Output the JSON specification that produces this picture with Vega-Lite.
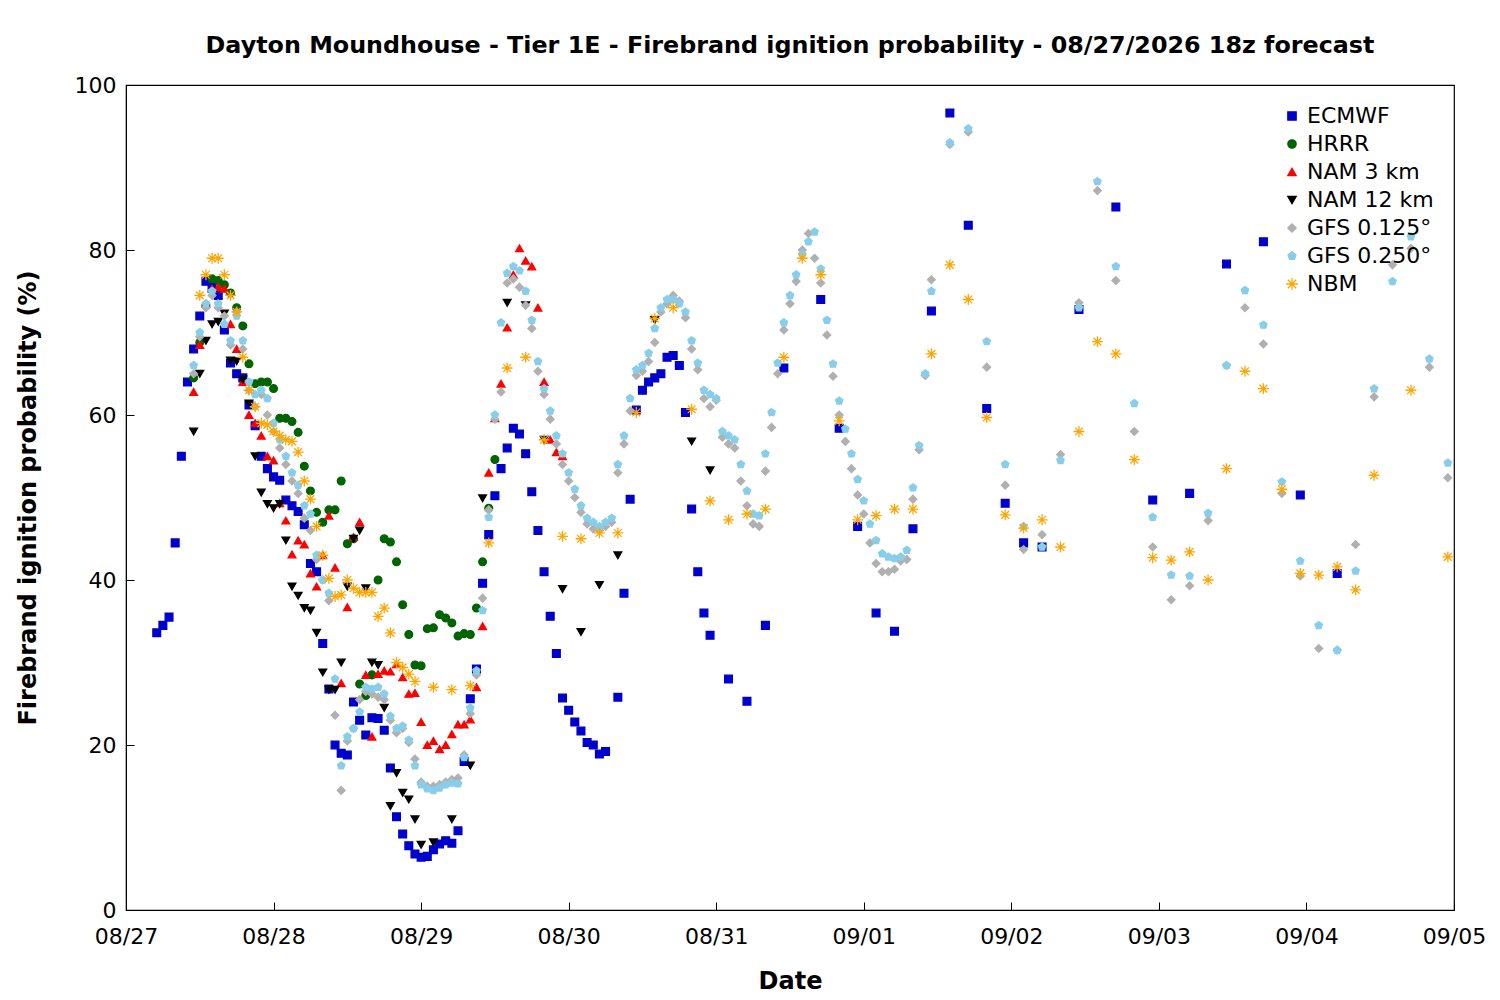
{
  "$schema": "https://vega.github.io/schema/vega-lite/v6.json",
  "width": 1328,
  "height": 825,
  "autosize": "none",
  "padding": {"left": 126, "top": 85, "right": 46, "bottom": 90},
  "background": "white",
  "title": {"text": "Dayton Moundhouse - Tier 1E - Firebrand ignition probability - 08/27/2026 18z forecast", "font": "DejaVu Sans", "fontSize": 23.8, "fontWeight": "bold", "offset": 16},
  "data": {"values": [
    {"m":"ECMWF","h":5,"v":33.6},{"m":"ECMWF","h":6,"v":34.5},{"m":"ECMWF","h":7,"v":35.5},{"m":"ECMWF","h":8,"v":44.5},{"m":"ECMWF","h":9,"v":55},{"m":"ECMWF","h":10,"v":64},{"m":"ECMWF","h":11,"v":68},{"m":"ECMWF","h":12,"v":72},{"m":"ECMWF","h":13,"v":76.2},{"m":"ECMWF","h":14,"v":75.5},{"m":"ECMWF","h":15,"v":74.5},{"m":"ECMWF","h":16,"v":70.3},{"m":"ECMWF","h":17,"v":66.3},{"m":"ECMWF","h":18,"v":65},{"m":"ECMWF","h":19,"v":64.5},{"m":"ECMWF","h":20,"v":61.2},{"m":"ECMWF","h":21,"v":58.7},{"m":"ECMWF","h":22,"v":55},{"m":"ECMWF","h":23,"v":53.5},{"m":"ECMWF","h":24,"v":52.5},{"m":"ECMWF","h":25,"v":52.1},{"m":"ECMWF","h":26,"v":49.7},{"m":"ECMWF","h":27,"v":49},{"m":"ECMWF","h":28,"v":48.3},{"m":"ECMWF","h":29,"v":46.7},{"m":"ECMWF","h":30,"v":42},{"m":"ECMWF","h":31,"v":41},{"m":"ECMWF","h":32,"v":32.3},{"m":"ECMWF","h":33,"v":26.8},{"m":"ECMWF","h":34,"v":20},{"m":"ECMWF","h":35,"v":19},{"m":"ECMWF","h":36,"v":18.8},{"m":"ECMWF","h":37,"v":25.2},{"m":"ECMWF","h":38,"v":23},{"m":"ECMWF","h":39,"v":21.2},{"m":"ECMWF","h":40,"v":23.3},{"m":"ECMWF","h":41,"v":23.2},{"m":"ECMWF","h":42,"v":21.8},{"m":"ECMWF","h":43,"v":17.2},{"m":"ECMWF","h":44,"v":11.3},{"m":"ECMWF","h":45,"v":9.2},{"m":"ECMWF","h":46,"v":7.8},{"m":"ECMWF","h":47,"v":6.8},{"m":"ECMWF","h":48,"v":6.4},{"m":"ECMWF","h":49,"v":6.5},{"m":"ECMWF","h":50,"v":7.3},{"m":"ECMWF","h":51,"v":8},{"m":"ECMWF","h":52,"v":8.4},{"m":"ECMWF","h":53,"v":8.1},{"m":"ECMWF","h":54,"v":9.6},{"m":"ECMWF","h":55,"v":18},{"m":"ECMWF","h":56,"v":25.6},{"m":"ECMWF","h":57,"v":29.2},{"m":"ECMWF","h":58,"v":39.6},{"m":"ECMWF","h":59,"v":45.5},{"m":"ECMWF","h":60,"v":50.2},{"m":"ECMWF","h":61,"v":53.5},{"m":"ECMWF","h":62,"v":56},{"m":"ECMWF","h":63,"v":58.4},{"m":"ECMWF","h":64,"v":57.7},{"m":"ECMWF","h":65,"v":55.3},{"m":"ECMWF","h":66,"v":50.7},{"m":"ECMWF","h":67,"v":46},{"m":"ECMWF","h":68,"v":41},{"m":"ECMWF","h":69,"v":35.6},{"m":"ECMWF","h":70,"v":31.1},{"m":"ECMWF","h":71,"v":25.7},{"m":"ECMWF","h":72,"v":24.2},{"m":"ECMWF","h":73,"v":22.8},{"m":"ECMWF","h":74,"v":21.7},{"m":"ECMWF","h":75,"v":20.3},{"m":"ECMWF","h":76,"v":20},{"m":"ECMWF","h":77,"v":18.9},{"m":"ECMWF","h":78,"v":19.2},{"m":"ECMWF","h":80,"v":25.8},{"m":"ECMWF","h":81,"v":38.4},{"m":"ECMWF","h":82,"v":49.8},{"m":"ECMWF","h":83,"v":60.6},{"m":"ECMWF","h":84,"v":63},{"m":"ECMWF","h":85,"v":64},{"m":"ECMWF","h":86,"v":64.5},{"m":"ECMWF","h":87,"v":65},{"m":"ECMWF","h":88,"v":67},{"m":"ECMWF","h":89,"v":67.2},{"m":"ECMWF","h":90,"v":66},{"m":"ECMWF","h":91,"v":60.3},{"m":"ECMWF","h":92,"v":48.6},{"m":"ECMWF","h":93,"v":41},{"m":"ECMWF","h":94,"v":36},{"m":"ECMWF","h":95,"v":33.3},{"m":"ECMWF","h":98,"v":28},{"m":"ECMWF","h":101,"v":25.3},{"m":"ECMWF","h":104,"v":34.5},{"m":"ECMWF","h":107,"v":65.7},{"m":"ECMWF","h":113,"v":74},{"m":"ECMWF","h":116,"v":58.4},{"m":"ECMWF","h":119,"v":46.5},{"m":"ECMWF","h":122,"v":36},{"m":"ECMWF","h":125,"v":33.8},{"m":"ECMWF","h":128,"v":46.2},{"m":"ECMWF","h":131,"v":72.6},{"m":"ECMWF","h":134,"v":96.6},{"m":"ECMWF","h":137,"v":83},{"m":"ECMWF","h":140,"v":60.8},{"m":"ECMWF","h":143,"v":49.3},{"m":"ECMWF","h":146,"v":44.5},{"m":"ECMWF","h":149,"v":44},{"m":"ECMWF","h":155,"v":72.8},{"m":"ECMWF","h":161,"v":85.2},{"m":"ECMWF","h":167,"v":49.7},{"m":"ECMWF","h":173,"v":50.5},{"m":"ECMWF","h":179,"v":78.3},{"m":"ECMWF","h":185,"v":81},{"m":"ECMWF","h":191,"v":50.3},{"m":"ECMWF","h":197,"v":40.8},

    {"m":"HRRR","h":11,"v":64.5},{"m":"HRRR","h":12,"v":68.8},{"m":"HRRR","h":13,"v":73.3},{"m":"HRRR","h":14,"v":76.5},{"m":"HRRR","h":15,"v":76.3},{"m":"HRRR","h":16,"v":75.8},{"m":"HRRR","h":17,"v":74.8},{"m":"HRRR","h":18,"v":73},{"m":"HRRR","h":19,"v":70.8},{"m":"HRRR","h":20,"v":66.2},{"m":"HRRR","h":21,"v":63.8},{"m":"HRRR","h":22,"v":64},{"m":"HRRR","h":23,"v":64},{"m":"HRRR","h":24,"v":63.2},{"m":"HRRR","h":25,"v":59.6},{"m":"HRRR","h":26,"v":59.6},{"m":"HRRR","h":27,"v":59.2},{"m":"HRRR","h":28,"v":57.9},{"m":"HRRR","h":29,"v":53.8},{"m":"HRRR","h":30,"v":50.8},{"m":"HRRR","h":31,"v":48.2},{"m":"HRRR","h":32,"v":47},{"m":"HRRR","h":33,"v":48.5},{"m":"HRRR","h":34,"v":48.5},{"m":"HRRR","h":35,"v":52},{"m":"HRRR","h":36,"v":44.4},{"m":"HRRR","h":37,"v":45},{"m":"HRRR","h":38,"v":27.4},{"m":"HRRR","h":39,"v":26},{"m":"HRRR","h":40,"v":28.5},{"m":"HRRR","h":41,"v":40},{"m":"HRRR","h":42,"v":45},{"m":"HRRR","h":43,"v":44.6},{"m":"HRRR","h":44,"v":42.2},{"m":"HRRR","h":45,"v":37},{"m":"HRRR","h":46,"v":33.4},{"m":"HRRR","h":47,"v":29.7},{"m":"HRRR","h":48,"v":29.6},{"m":"HRRR","h":49,"v":34.1},{"m":"HRRR","h":50,"v":34.2},{"m":"HRRR","h":51,"v":35.8},{"m":"HRRR","h":52,"v":35.4},{"m":"HRRR","h":53,"v":34.8},{"m":"HRRR","h":54,"v":33.2},{"m":"HRRR","h":55,"v":33.5},{"m":"HRRR","h":56,"v":33.4},{"m":"HRRR","h":57,"v":36.6},{"m":"HRRR","h":58,"v":42.2},{"m":"HRRR","h":59,"v":48.7},{"m":"HRRR","h":60,"v":54.6},

    {"m":"NAM 3 km","h":11,"v":62.8},{"m":"NAM 3 km","h":12,"v":68.5},{"m":"NAM 3 km","h":13,"v":73.5},{"m":"NAM 3 km","h":14,"v":75.3},{"m":"NAM 3 km","h":15,"v":75.5},{"m":"NAM 3 km","h":16,"v":75.3},{"m":"NAM 3 km","h":17,"v":71},{"m":"NAM 3 km","h":18,"v":68},{"m":"NAM 3 km","h":19,"v":64},{"m":"NAM 3 km","h":20,"v":60},{"m":"NAM 3 km","h":21,"v":59},{"m":"NAM 3 km","h":22,"v":57.5},{"m":"NAM 3 km","h":23,"v":55},{"m":"NAM 3 km","h":24,"v":54.5},{"m":"NAM 3 km","h":25,"v":49.3},{"m":"NAM 3 km","h":26,"v":47.2},{"m":"NAM 3 km","h":27,"v":43.1},{"m":"NAM 3 km","h":28,"v":44.8},{"m":"NAM 3 km","h":29,"v":44.3},{"m":"NAM 3 km","h":30,"v":40.8},{"m":"NAM 3 km","h":31,"v":39.2},{"m":"NAM 3 km","h":32,"v":43},{"m":"NAM 3 km","h":33,"v":47.8},{"m":"NAM 3 km","h":34,"v":41.5},{"m":"NAM 3 km","h":35,"v":27.5},{"m":"NAM 3 km","h":36,"v":36.7},{"m":"NAM 3 km","h":37,"v":45.2},{"m":"NAM 3 km","h":38,"v":47},{"m":"NAM 3 km","h":39,"v":28.5},{"m":"NAM 3 km","h":40,"v":21},{"m":"NAM 3 km","h":41,"v":28.6},{"m":"NAM 3 km","h":42,"v":29},{"m":"NAM 3 km","h":43,"v":28.9},{"m":"NAM 3 km","h":44,"v":29.8},{"m":"NAM 3 km","h":45,"v":28.2},{"m":"NAM 3 km","h":46,"v":26.2},{"m":"NAM 3 km","h":47,"v":26.3},{"m":"NAM 3 km","h":48,"v":22.8},{"m":"NAM 3 km","h":49,"v":20},{"m":"NAM 3 km","h":50,"v":20.5},{"m":"NAM 3 km","h":51,"v":19.5},{"m":"NAM 3 km","h":52,"v":20},{"m":"NAM 3 km","h":53,"v":21.3},{"m":"NAM 3 km","h":54,"v":22.5},{"m":"NAM 3 km","h":55,"v":22.5},{"m":"NAM 3 km","h":56,"v":23.1},{"m":"NAM 3 km","h":57,"v":27},{"m":"NAM 3 km","h":58,"v":34.4},{"m":"NAM 3 km","h":59,"v":53},{"m":"NAM 3 km","h":60,"v":59.6},{"m":"NAM 3 km","h":61,"v":63.8},{"m":"NAM 3 km","h":62,"v":70.6},{"m":"NAM 3 km","h":63,"v":77},{"m":"NAM 3 km","h":64,"v":80.2},{"m":"NAM 3 km","h":65,"v":78.7},{"m":"NAM 3 km","h":66,"v":78},{"m":"NAM 3 km","h":67,"v":73},{"m":"NAM 3 km","h":68,"v":64},{"m":"NAM 3 km","h":69,"v":57},{"m":"NAM 3 km","h":70,"v":55.5},{"m":"NAM 3 km","h":71,"v":55},

    {"m":"NAM 12 km","h":11,"v":58},{"m":"NAM 12 km","h":12,"v":65},{"m":"NAM 12 km","h":13,"v":69},{"m":"NAM 12 km","h":14,"v":71},{"m":"NAM 12 km","h":15,"v":71.3},{"m":"NAM 12 km","h":16,"v":72.3},{"m":"NAM 12 km","h":17,"v":66.6},{"m":"NAM 12 km","h":18,"v":66.5},{"m":"NAM 12 km","h":19,"v":64.3},{"m":"NAM 12 km","h":20,"v":61.4},{"m":"NAM 12 km","h":21,"v":55},{"m":"NAM 12 km","h":22,"v":50.6},{"m":"NAM 12 km","h":23,"v":49.2},{"m":"NAM 12 km","h":24,"v":48.7},{"m":"NAM 12 km","h":25,"v":49.2},{"m":"NAM 12 km","h":26,"v":44.8},{"m":"NAM 12 km","h":27,"v":39.2},{"m":"NAM 12 km","h":28,"v":38.1},{"m":"NAM 12 km","h":29,"v":36.6},{"m":"NAM 12 km","h":30,"v":36.3},{"m":"NAM 12 km","h":31,"v":33.6},{"m":"NAM 12 km","h":32,"v":28.8},{"m":"NAM 12 km","h":33,"v":26.7},{"m":"NAM 12 km","h":34,"v":26.7},{"m":"NAM 12 km","h":35,"v":30},{"m":"NAM 12 km","h":36,"v":39.2},{"m":"NAM 12 km","h":37,"v":45},{"m":"NAM 12 km","h":38,"v":46},{"m":"NAM 12 km","h":39,"v":39},{"m":"NAM 12 km","h":40,"v":30},{"m":"NAM 12 km","h":41,"v":29.7},{"m":"NAM 12 km","h":42,"v":24.5},{"m":"NAM 12 km","h":43,"v":12.6},{"m":"NAM 12 km","h":44,"v":16.6},{"m":"NAM 12 km","h":45,"v":14.2},{"m":"NAM 12 km","h":46,"v":13.4},{"m":"NAM 12 km","h":47,"v":11},{"m":"NAM 12 km","h":48,"v":7.9},{"m":"NAM 12 km","h":50,"v":8.2},{"m":"NAM 12 km","h":53,"v":11},{"m":"NAM 12 km","h":56,"v":17.5},{"m":"NAM 12 km","h":58,"v":49.9},{"m":"NAM 12 km","h":62,"v":73.6},{"m":"NAM 12 km","h":65,"v":73.3},{"m":"NAM 12 km","h":68,"v":57},{"m":"NAM 12 km","h":71,"v":38.9},{"m":"NAM 12 km","h":74,"v":33.7},{"m":"NAM 12 km","h":77,"v":39.4},{"m":"NAM 12 km","h":80,"v":43},{"m":"NAM 12 km","h":86,"v":71.5},{"m":"NAM 12 km","h":92,"v":56.8},{"m":"NAM 12 km","h":95,"v":53.3},

    {"m":"GFS 0.125°","h":11,"v":65},{"m":"GFS 0.125°","h":12,"v":69.5},{"m":"GFS 0.125°","h":13,"v":73},{"m":"GFS 0.125°","h":14,"v":74.5},{"m":"GFS 0.125°","h":15,"v":73},{"m":"GFS 0.125°","h":16,"v":72},{"m":"GFS 0.125°","h":17,"v":68.5},{"m":"GFS 0.125°","h":18,"v":72.5},{"m":"GFS 0.125°","h":19,"v":68},{"m":"GFS 0.125°","h":20,"v":63},{"m":"GFS 0.125°","h":21,"v":61},{"m":"GFS 0.125°","h":22,"v":62.5},{"m":"GFS 0.125°","h":23,"v":60},{"m":"GFS 0.125°","h":24,"v":58},{"m":"GFS 0.125°","h":25,"v":56},{"m":"GFS 0.125°","h":26,"v":54},{"m":"GFS 0.125°","h":27,"v":52},{"m":"GFS 0.125°","h":28,"v":50.5},{"m":"GFS 0.125°","h":29,"v":47.5},{"m":"GFS 0.125°","h":30,"v":46},{"m":"GFS 0.125°","h":31,"v":42.5},{"m":"GFS 0.125°","h":32,"v":40},{"m":"GFS 0.125°","h":33,"v":37.5},{"m":"GFS 0.125°","h":34,"v":23.6},{"m":"GFS 0.125°","h":35,"v":14.5},{"m":"GFS 0.125°","h":36,"v":20.5},{"m":"GFS 0.125°","h":37,"v":22},{"m":"GFS 0.125°","h":38,"v":25.5},{"m":"GFS 0.125°","h":39,"v":26.5},{"m":"GFS 0.125°","h":40,"v":26.2},{"m":"GFS 0.125°","h":41,"v":25.8},{"m":"GFS 0.125°","h":42,"v":25.5},{"m":"GFS 0.125°","h":43,"v":23},{"m":"GFS 0.125°","h":44,"v":21.5},{"m":"GFS 0.125°","h":45,"v":22},{"m":"GFS 0.125°","h":46,"v":20.3},{"m":"GFS 0.125°","h":47,"v":18.3},{"m":"GFS 0.125°","h":48,"v":15.5},{"m":"GFS 0.125°","h":49,"v":15},{"m":"GFS 0.125°","h":50,"v":15},{"m":"GFS 0.125°","h":51,"v":15.2},{"m":"GFS 0.125°","h":52,"v":15.5},{"m":"GFS 0.125°","h":53,"v":15.8},{"m":"GFS 0.125°","h":54,"v":16},{"m":"GFS 0.125°","h":55,"v":18.8},{"m":"GFS 0.125°","h":56,"v":23.8},{"m":"GFS 0.125°","h":57,"v":28.5},{"m":"GFS 0.125°","h":58,"v":37.8},{"m":"GFS 0.125°","h":59,"v":48.5},{"m":"GFS 0.125°","h":60,"v":59.5},{"m":"GFS 0.125°","h":61,"v":62.8},{"m":"GFS 0.125°","h":62,"v":76},{"m":"GFS 0.125°","h":63,"v":76.5},{"m":"GFS 0.125°","h":64,"v":75.5},{"m":"GFS 0.125°","h":65,"v":73.3},{"m":"GFS 0.125°","h":66,"v":70.5},{"m":"GFS 0.125°","h":67,"v":65.3},{"m":"GFS 0.125°","h":68,"v":62.5},{"m":"GFS 0.125°","h":69,"v":59.5},{"m":"GFS 0.125°","h":70,"v":56.5},{"m":"GFS 0.125°","h":71,"v":54},{"m":"GFS 0.125°","h":72,"v":52},{"m":"GFS 0.125°","h":73,"v":50},{"m":"GFS 0.125°","h":74,"v":48.2},{"m":"GFS 0.125°","h":75,"v":46.8},{"m":"GFS 0.125°","h":76,"v":46.2},{"m":"GFS 0.125°","h":77,"v":46},{"m":"GFS 0.125°","h":78,"v":46.5},{"m":"GFS 0.125°","h":79,"v":47},{"m":"GFS 0.125°","h":80,"v":53},{"m":"GFS 0.125°","h":81,"v":56.5},{"m":"GFS 0.125°","h":82,"v":60.5},{"m":"GFS 0.125°","h":83,"v":64.8},{"m":"GFS 0.125°","h":84,"v":65.3},{"m":"GFS 0.125°","h":85,"v":66.5},{"m":"GFS 0.125°","h":86,"v":68.8},{"m":"GFS 0.125°","h":87,"v":72.5},{"m":"GFS 0.125°","h":88,"v":73.5},{"m":"GFS 0.125°","h":89,"v":74.5},{"m":"GFS 0.125°","h":90,"v":73.8},{"m":"GFS 0.125°","h":91,"v":71.8},{"m":"GFS 0.125°","h":92,"v":68},{"m":"GFS 0.125°","h":93,"v":65.5},{"m":"GFS 0.125°","h":94,"v":62},{"m":"GFS 0.125°","h":95,"v":61},{"m":"GFS 0.125°","h":96,"v":61.8},{"m":"GFS 0.125°","h":97,"v":57.3},{"m":"GFS 0.125°","h":98,"v":56.5},{"m":"GFS 0.125°","h":99,"v":56},{"m":"GFS 0.125°","h":100,"v":52},{"m":"GFS 0.125°","h":101,"v":49},{"m":"GFS 0.125°","h":102,"v":46.8},{"m":"GFS 0.125°","h":103,"v":46.5},{"m":"GFS 0.125°","h":104,"v":53.2},{"m":"GFS 0.125°","h":105,"v":58.5},{"m":"GFS 0.125°","h":106,"v":65},{"m":"GFS 0.125°","h":107,"v":70.3},{"m":"GFS 0.125°","h":108,"v":73.5},{"m":"GFS 0.125°","h":109,"v":76.2},{"m":"GFS 0.125°","h":110,"v":80},{"m":"GFS 0.125°","h":111,"v":82},{"m":"GFS 0.125°","h":112,"v":79},{"m":"GFS 0.125°","h":113,"v":76},{"m":"GFS 0.125°","h":114,"v":69.7},{"m":"GFS 0.125°","h":115,"v":64.7},{"m":"GFS 0.125°","h":116,"v":60},{"m":"GFS 0.125°","h":117,"v":56.8},{"m":"GFS 0.125°","h":118,"v":53.5},{"m":"GFS 0.125°","h":119,"v":50.3},{"m":"GFS 0.125°","h":120,"v":48},{"m":"GFS 0.125°","h":121,"v":44.5},{"m":"GFS 0.125°","h":122,"v":42},{"m":"GFS 0.125°","h":123,"v":41},{"m":"GFS 0.125°","h":124,"v":41},{"m":"GFS 0.125°","h":125,"v":41.3},{"m":"GFS 0.125°","h":126,"v":42.3},{"m":"GFS 0.125°","h":127,"v":42.5},{"m":"GFS 0.125°","h":128,"v":49.8},{"m":"GFS 0.125°","h":129,"v":55.8},{"m":"GFS 0.125°","h":130,"v":64.8},{"m":"GFS 0.125°","h":131,"v":76.4},{"m":"GFS 0.125°","h":134,"v":92.8},{"m":"GFS 0.125°","h":137,"v":94.3},{"m":"GFS 0.125°","h":140,"v":65.8},{"m":"GFS 0.125°","h":143,"v":51.5},{"m":"GFS 0.125°","h":146,"v":43.7},{"m":"GFS 0.125°","h":149,"v":45.5},{"m":"GFS 0.125°","h":152,"v":55.2},{"m":"GFS 0.125°","h":155,"v":73.6},{"m":"GFS 0.125°","h":158,"v":87.2},{"m":"GFS 0.125°","h":161,"v":76.3},{"m":"GFS 0.125°","h":164,"v":58},{"m":"GFS 0.125°","h":167,"v":44},{"m":"GFS 0.125°","h":170,"v":37.6},{"m":"GFS 0.125°","h":173,"v":39.3},{"m":"GFS 0.125°","h":176,"v":47.2},{"m":"GFS 0.125°","h":179,"v":66},{"m":"GFS 0.125°","h":182,"v":73},{"m":"GFS 0.125°","h":185,"v":68.6},{"m":"GFS 0.125°","h":188,"v":50.5},{"m":"GFS 0.125°","h":191,"v":40.5},{"m":"GFS 0.125°","h":194,"v":31.7},{"m":"GFS 0.125°","h":197,"v":31.5},{"m":"GFS 0.125°","h":200,"v":44.3},{"m":"GFS 0.125°","h":203,"v":62.2},{"m":"GFS 0.125°","h":206,"v":78.2},{"m":"GFS 0.125°","h":209,"v":80.2},{"m":"GFS 0.125°","h":212,"v":65.8},{"m":"GFS 0.125°","h":215,"v":52.4},

    {"m":"GFS 0.250°","h":11,"v":66},{"m":"GFS 0.250°","h":12,"v":70},{"m":"GFS 0.250°","h":13,"v":73.5},{"m":"GFS 0.250°","h":14,"v":75},{"m":"GFS 0.250°","h":15,"v":73.5},{"m":"GFS 0.250°","h":16,"v":71},{"m":"GFS 0.250°","h":17,"v":69},{"m":"GFS 0.250°","h":18,"v":72},{"m":"GFS 0.250°","h":19,"v":69},{"m":"GFS 0.250°","h":20,"v":64},{"m":"GFS 0.250°","h":21,"v":62.5},{"m":"GFS 0.250°","h":22,"v":63},{"m":"GFS 0.250°","h":23,"v":62},{"m":"GFS 0.250°","h":24,"v":59},{"m":"GFS 0.250°","h":25,"v":57},{"m":"GFS 0.250°","h":26,"v":55},{"m":"GFS 0.250°","h":27,"v":53},{"m":"GFS 0.250°","h":28,"v":51.5},{"m":"GFS 0.250°","h":29,"v":49},{"m":"GFS 0.250°","h":30,"v":48},{"m":"GFS 0.250°","h":31,"v":43},{"m":"GFS 0.250°","h":32,"v":40},{"m":"GFS 0.250°","h":33,"v":38.4},{"m":"GFS 0.250°","h":34,"v":28},{"m":"GFS 0.250°","h":35,"v":17.5},{"m":"GFS 0.250°","h":36,"v":21},{"m":"GFS 0.250°","h":37,"v":22},{"m":"GFS 0.250°","h":38,"v":24},{"m":"GFS 0.250°","h":39,"v":27},{"m":"GFS 0.250°","h":40,"v":26.8},{"m":"GFS 0.250°","h":41,"v":27},{"m":"GFS 0.250°","h":42,"v":26.2},{"m":"GFS 0.250°","h":43,"v":23.5},{"m":"GFS 0.250°","h":44,"v":22},{"m":"GFS 0.250°","h":45,"v":22.3},{"m":"GFS 0.250°","h":46,"v":20.6},{"m":"GFS 0.250°","h":47,"v":17.5},{"m":"GFS 0.250°","h":48,"v":15.2},{"m":"GFS 0.250°","h":49,"v":14.7},{"m":"GFS 0.250°","h":50,"v":14.5},{"m":"GFS 0.250°","h":51,"v":14.8},{"m":"GFS 0.250°","h":52,"v":15.2},{"m":"GFS 0.250°","h":53,"v":15.4},{"m":"GFS 0.250°","h":54,"v":15.3},{"m":"GFS 0.250°","h":55,"v":18.5},{"m":"GFS 0.250°","h":56,"v":24.5},{"m":"GFS 0.250°","h":57,"v":29},{"m":"GFS 0.250°","h":58,"v":36.3},{"m":"GFS 0.250°","h":59,"v":47.6},{"m":"GFS 0.250°","h":60,"v":60},{"m":"GFS 0.250°","h":61,"v":71.2},{"m":"GFS 0.250°","h":62,"v":77.2},{"m":"GFS 0.250°","h":63,"v":78},{"m":"GFS 0.250°","h":64,"v":77.5},{"m":"GFS 0.250°","h":65,"v":75},{"m":"GFS 0.250°","h":66,"v":71.5},{"m":"GFS 0.250°","h":67,"v":66.5},{"m":"GFS 0.250°","h":68,"v":63.2},{"m":"GFS 0.250°","h":69,"v":60.5},{"m":"GFS 0.250°","h":70,"v":57.5},{"m":"GFS 0.250°","h":71,"v":55.3},{"m":"GFS 0.250°","h":72,"v":53},{"m":"GFS 0.250°","h":73,"v":51},{"m":"GFS 0.250°","h":74,"v":49},{"m":"GFS 0.250°","h":75,"v":47.5},{"m":"GFS 0.250°","h":76,"v":47},{"m":"GFS 0.250°","h":77,"v":46.5},{"m":"GFS 0.250°","h":78,"v":47},{"m":"GFS 0.250°","h":79,"v":47.5},{"m":"GFS 0.250°","h":80,"v":54},{"m":"GFS 0.250°","h":81,"v":57.5},{"m":"GFS 0.250°","h":82,"v":62},{"m":"GFS 0.250°","h":83,"v":65.5},{"m":"GFS 0.250°","h":84,"v":66},{"m":"GFS 0.250°","h":85,"v":67.5},{"m":"GFS 0.250°","h":86,"v":70.5},{"m":"GFS 0.250°","h":87,"v":73},{"m":"GFS 0.250°","h":88,"v":74},{"m":"GFS 0.250°","h":89,"v":74},{"m":"GFS 0.250°","h":90,"v":73.5},{"m":"GFS 0.250°","h":91,"v":72.5},{"m":"GFS 0.250°","h":92,"v":69},{"m":"GFS 0.250°","h":93,"v":66.3},{"m":"GFS 0.250°","h":94,"v":63},{"m":"GFS 0.250°","h":95,"v":62.5},{"m":"GFS 0.250°","h":96,"v":62},{"m":"GFS 0.250°","h":97,"v":58},{"m":"GFS 0.250°","h":98,"v":57.5},{"m":"GFS 0.250°","h":99,"v":57},{"m":"GFS 0.250°","h":100,"v":54},{"m":"GFS 0.250°","h":101,"v":50.8},{"m":"GFS 0.250°","h":102,"v":48},{"m":"GFS 0.250°","h":103,"v":47.8},{"m":"GFS 0.250°","h":104,"v":55.3},{"m":"GFS 0.250°","h":105,"v":60.3},{"m":"GFS 0.250°","h":106,"v":66.3},{"m":"GFS 0.250°","h":107,"v":71.2},{"m":"GFS 0.250°","h":108,"v":74.5},{"m":"GFS 0.250°","h":109,"v":77},{"m":"GFS 0.250°","h":110,"v":79.5},{"m":"GFS 0.250°","h":111,"v":81},{"m":"GFS 0.250°","h":112,"v":82.2},{"m":"GFS 0.250°","h":113,"v":77.7},{"m":"GFS 0.250°","h":114,"v":71.5},{"m":"GFS 0.250°","h":115,"v":66.2},{"m":"GFS 0.250°","h":116,"v":61.7},{"m":"GFS 0.250°","h":117,"v":58.3},{"m":"GFS 0.250°","h":118,"v":55.3},{"m":"GFS 0.250°","h":119,"v":52.2},{"m":"GFS 0.250°","h":120,"v":49.6},{"m":"GFS 0.250°","h":121,"v":46.8},{"m":"GFS 0.250°","h":122,"v":44.8},{"m":"GFS 0.250°","h":123,"v":43.2},{"m":"GFS 0.250°","h":124,"v":42.8},{"m":"GFS 0.250°","h":125,"v":42.6},{"m":"GFS 0.250°","h":126,"v":42.8},{"m":"GFS 0.250°","h":127,"v":43.6},{"m":"GFS 0.250°","h":128,"v":51.2},{"m":"GFS 0.250°","h":129,"v":56.3},{"m":"GFS 0.250°","h":130,"v":65},{"m":"GFS 0.250°","h":131,"v":75},{"m":"GFS 0.250°","h":134,"v":93},{"m":"GFS 0.250°","h":137,"v":94.7},{"m":"GFS 0.250°","h":140,"v":68.9},{"m":"GFS 0.250°","h":143,"v":54},{"m":"GFS 0.250°","h":146,"v":46.5},{"m":"GFS 0.250°","h":149,"v":44},{"m":"GFS 0.250°","h":152,"v":54.5},{"m":"GFS 0.250°","h":155,"v":73},{"m":"GFS 0.250°","h":158,"v":88.3},{"m":"GFS 0.250°","h":161,"v":78},{"m":"GFS 0.250°","h":164,"v":61.4},{"m":"GFS 0.250°","h":167,"v":47.6},{"m":"GFS 0.250°","h":170,"v":40.6},{"m":"GFS 0.250°","h":173,"v":40.5},{"m":"GFS 0.250°","h":176,"v":48.1},{"m":"GFS 0.250°","h":179,"v":66},{"m":"GFS 0.250°","h":182,"v":75.1},{"m":"GFS 0.250°","h":185,"v":70.9},{"m":"GFS 0.250°","h":188,"v":51.9},{"m":"GFS 0.250°","h":191,"v":42.3},{"m":"GFS 0.250°","h":194,"v":34.5},{"m":"GFS 0.250°","h":197,"v":31.5},{"m":"GFS 0.250°","h":200,"v":41.1},{"m":"GFS 0.250°","h":203,"v":63.2},{"m":"GFS 0.250°","h":206,"v":76.2},{"m":"GFS 0.250°","h":209,"v":81.6},{"m":"GFS 0.250°","h":212,"v":66.8},{"m":"GFS 0.250°","h":215,"v":54.2},

    {"m":"NBM","h":12,"v":74.5},{"m":"NBM","h":13,"v":77},{"m":"NBM","h":14,"v":79},{"m":"NBM","h":15,"v":79},{"m":"NBM","h":16,"v":77},{"m":"NBM","h":17,"v":74.5},{"m":"NBM","h":18,"v":72.5},{"m":"NBM","h":19,"v":67},{"m":"NBM","h":20,"v":63},{"m":"NBM","h":21,"v":61},{"m":"NBM","h":22,"v":59},{"m":"NBM","h":23,"v":58.8},{"m":"NBM","h":24,"v":58},{"m":"NBM","h":25,"v":57.5},{"m":"NBM","h":26,"v":57},{"m":"NBM","h":27,"v":56.8},{"m":"NBM","h":28,"v":55.5},{"m":"NBM","h":29,"v":52},{"m":"NBM","h":30,"v":49.8},{"m":"NBM","h":31,"v":46.5},{"m":"NBM","h":32,"v":43},{"m":"NBM","h":33,"v":40.2},{"m":"NBM","h":34,"v":38},{"m":"NBM","h":35,"v":38.2},{"m":"NBM","h":36,"v":40},{"m":"NBM","h":37,"v":39},{"m":"NBM","h":38,"v":38.5},{"m":"NBM","h":39,"v":38.5},{"m":"NBM","h":40,"v":38.5},{"m":"NBM","h":41,"v":35.6},{"m":"NBM","h":42,"v":36.6},{"m":"NBM","h":43,"v":33.6},{"m":"NBM","h":44,"v":30},{"m":"NBM","h":45,"v":29.4},{"m":"NBM","h":46,"v":28.6},{"m":"NBM","h":47,"v":27.7},{"m":"NBM","h":50,"v":27},{"m":"NBM","h":53,"v":26.7},{"m":"NBM","h":56,"v":27.2},{"m":"NBM","h":59,"v":44.5},{"m":"NBM","h":62,"v":65.7},{"m":"NBM","h":65,"v":67},{"m":"NBM","h":68,"v":57},{"m":"NBM","h":71,"v":45.3},{"m":"NBM","h":74,"v":45},{"m":"NBM","h":77,"v":45.7},{"m":"NBM","h":80,"v":45.7},{"m":"NBM","h":83,"v":60.3},{"m":"NBM","h":86,"v":71.7},{"m":"NBM","h":89,"v":73},{"m":"NBM","h":92,"v":60.7},{"m":"NBM","h":95,"v":49.6},{"m":"NBM","h":98,"v":47.3},{"m":"NBM","h":101,"v":48},{"m":"NBM","h":104,"v":48.6},{"m":"NBM","h":107,"v":67},{"m":"NBM","h":110,"v":79},{"m":"NBM","h":113,"v":77},{"m":"NBM","h":116,"v":59.3},{"m":"NBM","h":119,"v":47.3},{"m":"NBM","h":122,"v":47.8},{"m":"NBM","h":125,"v":48.6},{"m":"NBM","h":128,"v":48.6},{"m":"NBM","h":131,"v":67.4},{"m":"NBM","h":134,"v":78.2},{"m":"NBM","h":137,"v":74},{"m":"NBM","h":140,"v":59.7},{"m":"NBM","h":143,"v":47.9},{"m":"NBM","h":146,"v":46.3},{"m":"NBM","h":149,"v":47.3},{"m":"NBM","h":152,"v":44},{"m":"NBM","h":155,"v":58},{"m":"NBM","h":158,"v":68.9},{"m":"NBM","h":161,"v":67.4},{"m":"NBM","h":164,"v":54.6},{"m":"NBM","h":167,"v":42.7},{"m":"NBM","h":170,"v":42.4},{"m":"NBM","h":173,"v":43.4},{"m":"NBM","h":176,"v":40},{"m":"NBM","h":179,"v":53.5},{"m":"NBM","h":182,"v":65.3},{"m":"NBM","h":185,"v":63.2},{"m":"NBM","h":188,"v":51},{"m":"NBM","h":191,"v":40.8},{"m":"NBM","h":194,"v":40.6},{"m":"NBM","h":197,"v":41.6},{"m":"NBM","h":200,"v":38.8},{"m":"NBM","h":203,"v":52.7},{"m":"NBM","h":209,"v":63},{"m":"NBM","h":215,"v":42.8}
  ]},
  "mark": {"type": "point", "filled": true, "size": 60, "strokeWidth": 1.3, "opacity": 1},
  "encoding": {
    "x": {"field": "h", "type": "quantitative", "scale": {"domain": [0, 216], "nice": false},
      "axis": {"title": "Date", "values": [0,24,48,72,96,120,144,168,192,216], "grid": false, "tickSize": -8, "labelPadding": 24, "labelFlush": false, "titlePadding": 22,
        "labelExpr": "['08/27','08/28','08/29','08/30','08/31','09/01','09/02','09/03','09/04','09/05'][round(datum.value/24)]"}},
    "y": {"field": "v", "type": "quantitative", "scale": {"domain": [0, 100], "nice": false},
      "axis": {"title": "Firebrand ignition probability (%)", "values": [0,20,40,60,80,100], "grid": false, "tickSize": -8, "labelPadding": 18, "labelFlush": false, "titlePadding": 34}},
    "fill": {"field": "m", "type": "nominal",
      "scale": {"domain": ["ECMWF","HRRR","NAM 3 km","NAM 12 km","GFS 0.125°","GFS 0.250°","NBM"], "range": ["#0000cd","#006400","#ff0000","#000000","#b0b0b0","#87ceeb","#ffa500"]},
      "legend": {"title": null, "orient": "top-right", "offset": 20, "labelFontSize": 22, "symbolSize": 70, "rowPadding": 6, "labelFont": "DejaVu Sans", "symbolStrokeWidth": 1.3}},
    "stroke": {"field": "m", "type": "nominal",
      "scale": {"domain": ["ECMWF","HRRR","NAM 3 km","NAM 12 km","GFS 0.125°","GFS 0.250°","NBM"], "range": ["#0000cd","#006400","#ff0000","#000000","#b0b0b0","#87ceeb","#ffa500"]},
      "legend": {"title": null, "orient": "top-right", "offset": 20, "labelFontSize": 22, "symbolSize": 70, "rowPadding": 6, "labelFont": "DejaVu Sans", "symbolStrokeWidth": 1.3}},
    "shape": {"field": "m", "type": "nominal",
      "scale": {"domain": ["ECMWF","HRRR","NAM 3 km","NAM 12 km","GFS 0.125°","GFS 0.250°","NBM"],
        "range": ["square","circle","triangle-up","triangle-down","diamond","M0,-1L0.95,-0.31L0.59,0.81L-0.59,0.81L-0.95,-0.31Z","M-1.4,0L1.4,0M0,-1.4L0,1.4M-1,-1L1,1M-1,1L1,-1"]},
      "legend": {"title": null, "orient": "top-right", "offset": 20, "labelFontSize": 22, "symbolSize": 70, "rowPadding": 6, "labelFont": "DejaVu Sans", "symbolStrokeWidth": 1.3}}
  },
  "config": {
    "font": "DejaVu Sans",
    "view": {"stroke": "black", "strokeWidth": 1.2},
    "axis": {"labelFontSize": 22, "titleFontSize": 24, "titleFontWeight": "bold", "labelColor": "black", "titleColor": "black", "domainColor": "black", "tickColor": "black", "labelFont": "DejaVu Sans", "titleFont": "DejaVu Sans"}
  }
}
